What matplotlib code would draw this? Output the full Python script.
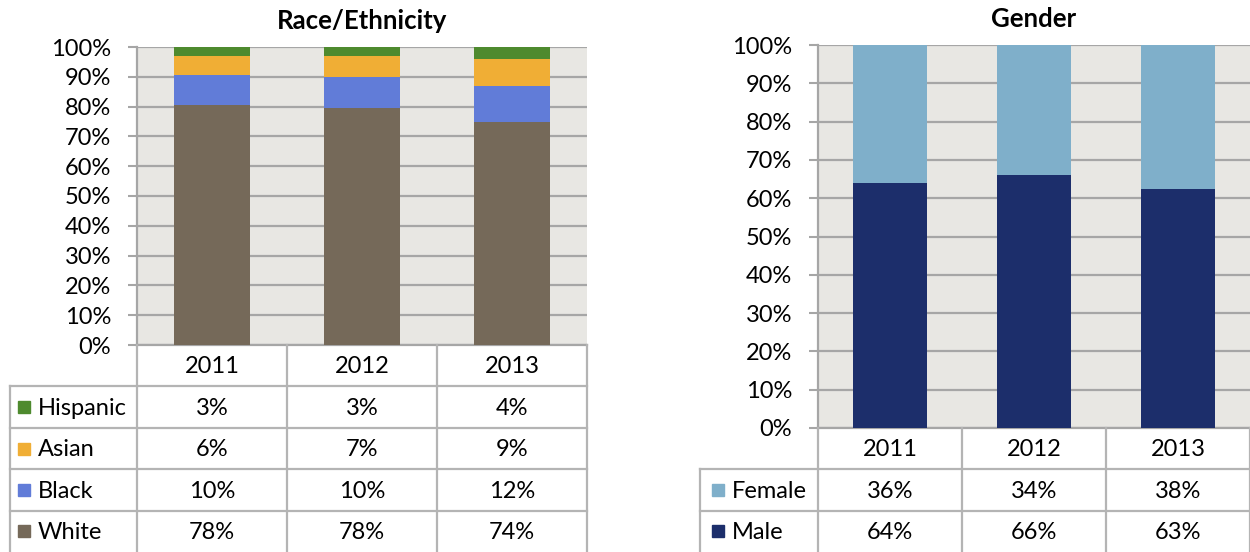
import numpy as np
import matplotlib
matplotlib.use('Agg')
import matplotlib.pyplot as plt

# ---- data ----
years = ['2011', '2012', '2013']
race_labels = ['Hispanic', 'Asian', 'Black', 'White']
hispanic = [3, 3, 4]
asian = [6, 7, 9]
black = [10, 10, 12]
white = [78, 78, 74]
gender_labels = ['Female', 'Male']
female = [36, 34, 38]
male = [64, 66, 63]

race_colors = ['#4E8A2E', '#F0AE35', '#617CD8', '#756959']
gender_colors = ['#7FAFCA', '#1C2E6B']

plt.rcParams['font.family'] = ['Lato', 'DejaVu Sans']

W, H = 1250, 552
fig = plt.figure(figsize=(W / 100, H / 100), dpi=100)

GRID = '#A6A6A6'
BORDER = '#B4B4B4'
BG = '#E8E7E3'
FS = 17


def rect(l, t, r, b):
    return [l / W, 1 - b / H, (r - l) / W, (b - t) / H]


def panel(plot_box, table_box, title, series, labels, colors, sq_px, txt_px):
    ax = fig.add_axes(rect(*plot_box))
    vals = np.array(series, dtype=float)
    frac = vals / vals.sum(axis=0)
    x = np.arange(len(years))
    bottom = np.zeros(len(years))
    for i in range(len(labels) - 1, -1, -1):
        ax.bar(x, frac[i], 0.51, bottom=bottom, color=colors[i], zorder=3,
               linewidth=0)
        bottom += frac[i]
    ax.set_xlim(-0.5, len(years) - 0.5)
    ax.set_ylim(0, 1)
    ax.set_facecolor(BG)
    ax.set_yticks(np.arange(0, 1.01, 0.1))
    ax.set_yticklabels([f'{int(round(v * 100))}%' for v in np.arange(0, 1.01, 0.1)],
                       fontsize=FS)
    ax.set_xticks([])
    ax.yaxis.grid(True, color=GRID, linewidth=1.6, zorder=1)
    ax.tick_params(axis='y', length=6.5, width=1.5, color=GRID, pad=12)
    for s in ['top', 'right']:
        ax.spines[s].set_visible(False)
    ax.spines['left'].set_color(GRID)
    ax.spines['left'].set_linewidth(1.6)
    ax.spines['bottom'].set_color(GRID)
    ax.spines['bottom'].set_linewidth(1.6)
    ax.set_title(title, fontsize=18.5, fontweight='bold', pad=13)

    # ---- data table ----
    pl, pt, pr, pb = plot_box
    tl, tt, tr, tb = table_box
    cat_px = (pr - pl) / len(years)
    w = (pl - tl) / cat_px
    n = len(labels)
    tax = fig.add_axes(rect(*table_box))
    tax.set_xlim(-0.5 - w, len(years) - 0.5)
    tax.set_ylim(n + 1, 0)
    tax.axis('off')
    left = -0.5 - w
    right = len(years) - 0.5
    kw = dict(color=BORDER, linewidth=1.6, clip_on=False)
    for k in range(len(years) + 1):
        tax.plot([k - 0.5, k - 0.5], [0, n + 1], **kw)
    tax.plot([left, left], [1, n + 1], **kw)
    for k in range(1, n + 1):
        tax.plot([left, right], [k, k], **kw)
    for j, yr in enumerate(years):
        tax.text(j, 0.52, yr, ha='center', va='center', fontsize=FS)
    for i, lab in enumerate(labels):
        yc = i + 1.5
        tax.plot([left + sq_px / cat_px], [yc], marker='s', markersize=8.5,
                 color=colors[i], linestyle='none', clip_on=False)
        tax.text(left + txt_px / cat_px, yc + 0.03, lab, ha='left', va='center',
                 fontsize=FS)
        for j in range(len(years)):
            tax.text(j, yc + 0.03, f'{int(series[i][j])}%', ha='center',
                     va='center', fontsize=FS)


panel((137, 47, 587, 345), (10, 345, 587, 552), 'Race/Ethnicity',
      [hispanic, asian, black, white], race_labels, race_colors, 14, 28)
panel((818, 45, 1250, 428), (700, 428, 1250, 552), 'Gender',
      [female, male], gender_labels, gender_colors, 18, 32)

fig.savefig('out.png', dpi=100, facecolor='white')
